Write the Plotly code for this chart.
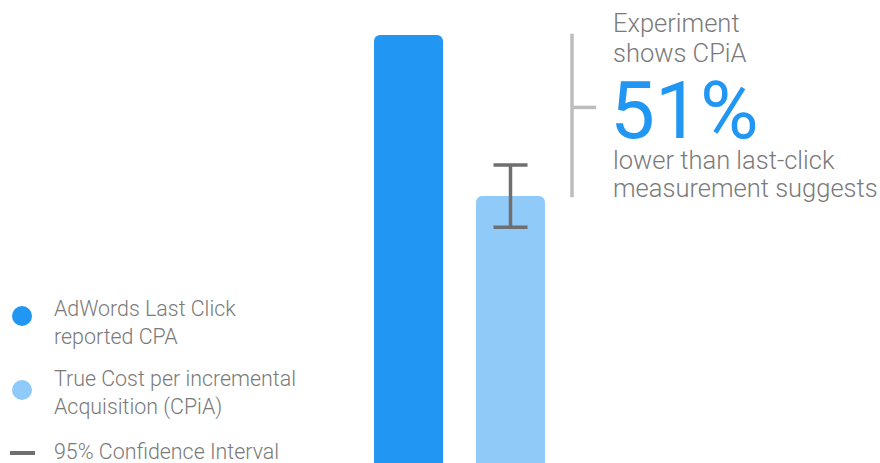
import plotly.graph_objects as go

# Data (normalized cost units)
categories = ["AdWords Last Click reported CPA", "True Cost per incremental Acquisition (CPiA)"]
values = [100.0, 62.4]
ci_low = [None, 55.1]
ci_high = [None, 69.6]
bar_colors = ["#2196F3", "#90CAF9"]
headline_lines = ["Experiment", "shows CPiA", "lower than last-click", "measurement suggests"]
headline_pct = "51%"
legend_labels = ["AdWords Last Click<br>reported CPA", "True Cost per incremental<br>Acquisition (CPiA)", "95% Confidence Interval"]

W, H = 880, 463
GRAY = "#7a7a7a"
FONT = "Roboto"

def px(x):
    return x / W

def py(y):
    return 1 - y / H

fig = go.Figure()
fig.add_trace(go.Bar(x=[0], y=[values[0]], width=0.676, marker=dict(color=bar_colors[0], line=dict(width=0)),
                     showlegend=False, hoverinfo="skip"))
fig.add_trace(go.Bar(x=[1], y=[values[1]], width=0.676, marker=dict(color=bar_colors[1], line=dict(width=0)),
                     error_y=dict(type="data", symmetric=False,
                                  array=[ci_high[1] - values[1]],
                                  arrayminus=[values[1] - ci_low[1]],
                                  color="#6f6f6f", thickness=3.5, width=17),
                     showlegend=False, hoverinfo="skip"))

# y scale: 0 at bottom edge, values[0] at pixel 35
ymax = values[0] * H / (H - 35)
xr = [-408.5 / 102, (W - 408.5) / 102]

shapes = []
# bracket between the two bar tops
bx = 1.603
shapes.append(dict(type="line", xref="x", yref="y", x0=bx, x1=bx, y0=values[0] + 0.3, y1=values[1] - 0.3,
                   line=dict(color="#BDBDBD", width=3.5)))
ymid = values[1] + (values[0] - values[1]) * 0.55
shapes.append(dict(type="line", xref="x", yref="y", x0=bx, x1=1.84, y0=ymid, y1=ymid,
                   line=dict(color="#BDBDBD", width=3.5)))
# legend symbols
for cy, col in [(316, bar_colors[0]), (390, bar_colors[1])]:
    shapes.append(dict(type="circle", xref="paper", yref="paper", x0=px(12), x1=px(32), y0=py(cy + 10), y1=py(cy - 10),
                       fillcolor=col, line=dict(width=0)))
shapes.append(dict(type="line", xref="paper", yref="paper", x0=px(10), x1=px(35), y0=py(453), y1=py(453),
                   line=dict(color="#6f6f6f", width=4)))

annotations = []
for txt, cy in zip(headline_lines, [22.5, 52.5, 159.5, 187.5]):
    annotations.append(dict(text=txt, x=px(612), y=py(cy), xanchor="left", yanchor="middle", align="left",
                            borderpad=0, font=dict(family=FONT, size=25.5, color=GRAY, weight=300)))
annotations.append(dict(text=headline_pct, x=px(609), y=py(111), xanchor="left", yanchor="middle", align="left",
                        borderpad=0, font=dict(family=FONT, size=80, color="#2196F3", weight=400)))
for txt, cy in zip(legend_labels, [322, 393, 451]):
    annotations.append(dict(text=txt, x=px(53), y=py(cy), xanchor="left", yanchor="middle", align="left",
                            borderpad=0, font=dict(family=FONT, size=21.4, color=GRAY, weight=300)))
for a in annotations:
    a.update(xref="paper", yref="paper", showarrow=False)

fig.update_layout(
    width=W, height=H, margin=dict(l=0, r=0, t=0, b=0),
    paper_bgcolor="white", plot_bgcolor="white",
    barmode="overlay", barcornerradius=6,
    xaxis=dict(range=xr, visible=False, fixedrange=True),
    yaxis=dict(range=[0, ymax], visible=False, fixedrange=True),
    shapes=shapes, annotations=annotations, showlegend=False,
)
fig.write_html("out.html", config={"displayModeBar": False})
